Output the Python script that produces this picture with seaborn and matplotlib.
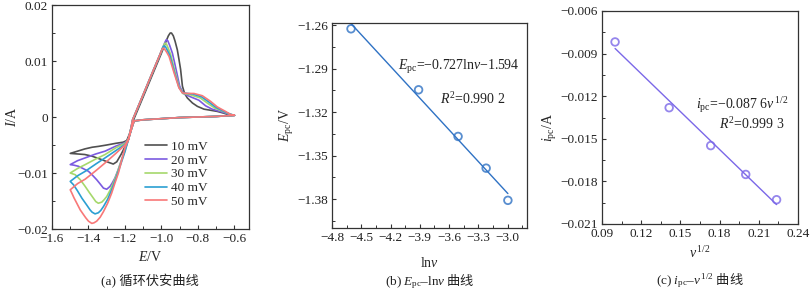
import numpy as np
import pandas as pd
import matplotlib
matplotlib.use("Agg")
import matplotlib.pyplot as plt
from matplotlib.ticker import MultipleLocator, FuncFormatter
import seaborn as sns

# ---------------- data ----------------
rates = ["10 mV", "20 mV", "30 mV", "40 mV", "50 mV"]
colors = ["#505050", "#7b5be0", "#a6d86c", "#2b9fd2", "#f87878"]

fwd_E = [-0.60, -0.70, -0.80, -0.90, -1.00, -1.10, -1.15, -1.165, -1.182]
fwd_I = [0.0003, 0.0001, 0.0000, -0.0001, -0.0003, -0.0005, -0.0007, -0.0022, -0.0041]

E_10 = fwd_E + [-1.20, -1.22, -1.245, -1.264, -1.29, -1.32, -1.346, -1.38, -1.42, -1.46, -1.50,
                -1.46, -1.42, -1.38, -1.346, -1.30, -1.25, -1.21, -1.19, -1.175, -1.16, -1.149,
                -1.10, -1.05, -1.00, -0.975, -0.962, -0.952, -0.945, -0.935, -0.925, -0.913,
                -0.904, -0.895, -0.885, -0.873, -0.858, -0.83, -0.803, -0.767, -0.73, -0.694,
                -0.66, -0.631, -0.618, -0.60]
I_10 = fwd_I + [-0.0053, -0.0066, -0.0080, -0.0084, -0.0081, -0.0077, -0.0074, -0.0070, -0.0067, -0.0066, -0.0065,
                -0.0061, -0.0057, -0.0054, -0.00525, -0.0050, -0.0047, -0.0045, -0.0042, -0.0030, -0.0012, -0.0002,
                0.0036, 0.0075, 0.0114, 0.0135, 0.0145, 0.0150, 0.0150, 0.0145, 0.0135, 0.0120,
                0.0103, 0.0085, 0.0055, 0.0042, 0.0034, 0.0025, 0.0019, 0.0014, 0.0012, 0.0010,
                0.0007, 0.0004, 0.0003, 0.0003]

E_20 = fwd_E + [-1.20, -1.218, -1.237, -1.255, -1.27, -1.282, -1.300, -1.318, -1.335, -1.355, -1.378, -1.40, -1.43, -1.455, -1.48, -1.50,
                -1.46, -1.418, -1.36, -1.309, -1.25, -1.20, -1.182, -1.17, -1.158,
                -1.10, -1.05, -1.01, -1.00, -0.99, -0.98, -0.973, -0.965, -0.955, -0.940, -0.928, -0.916, -0.900,
                -0.880, -0.860, -0.840, -0.795, -0.758, -0.722, -0.69, -0.658, -0.63, -0.60]
I_20 = fwd_I + [-0.0058, -0.0076, -0.0094, -0.0109, -0.0118, -0.0124, -0.0129, -0.0127, -0.0120, -0.0112, -0.0104, -0.0097, -0.0092, -0.0088, -0.0086, -0.0085,
                -0.0078, -0.0073, -0.0066, -0.0061, -0.0052, -0.0046, -0.0041, -0.0025, -0.0005,
                0.0040, 0.0079, 0.0110, 0.0118, 0.0126, 0.0134, 0.0138, 0.0136, 0.0128, 0.0114, 0.0097, 0.0079, 0.0055,
                0.0042, 0.0039, 0.0036, 0.0030, 0.0020, 0.0014, 0.0011, 0.0008, 0.0005, 0.0003]

E_30 = fwd_E + [-1.20, -1.227, -1.245, -1.264, -1.282, -1.300, -1.315, -1.327, -1.346, -1.36, -1.373, -1.395, -1.418, -1.445, -1.473, -1.50,
                -1.46, -1.418, -1.36, -1.309, -1.25, -1.20, -1.182, -1.17, -1.158,
                -1.10, -1.05, -1.01, -1.00, -0.99, -0.981, -0.972, -0.962, -0.950, -0.924, -0.903,
                -0.883, -0.86, -0.835, -0.787, -0.745, -0.708, -0.655, -0.625, -0.60]
I_30 = fwd_I + [-0.0060, -0.0085, -0.0102, -0.0118, -0.0131, -0.0142, -0.0148, -0.0152, -0.0154, -0.0151, -0.0145, -0.0135, -0.0124, -0.0112, -0.0103, -0.0100,
                -0.0092, -0.0085, -0.0075, -0.0067, -0.0055, -0.0047, -0.0041, -0.0025, -0.0005,
                0.0040, 0.0079, 0.0110, 0.0118, 0.0126, 0.0132, 0.0130, 0.0122, 0.0112, 0.0079, 0.0054,
                0.0042, 0.0041, 0.0039, 0.0034, 0.0024, 0.0016, 0.0009, 0.0005, 0.0003]

E_40 = fwd_E + [-1.20, -1.227, -1.25, -1.273, -1.295, -1.318, -1.333, -1.346, -1.364, -1.38, -1.391, -1.41, -1.436, -1.46, -1.482, -1.50,
                -1.46, -1.418, -1.36, -1.309, -1.25, -1.20, -1.182, -1.17, -1.158,
                -1.10, -1.05, -1.01, -1.00, -0.993, -0.986, -0.977, -0.966, -0.954, -0.928, -0.904,
                -0.884, -0.855, -0.828, -0.780, -0.737, -0.700, -0.652, -0.622, -0.60]
I_40 = fwd_I + [-0.0062, -0.0088, -0.0110, -0.0130, -0.0147, -0.0160, -0.0167, -0.0171, -0.0173, -0.0170, -0.0166, -0.0157, -0.0145, -0.0132, -0.0121, -0.0115,
                -0.0105, -0.0097, -0.0084, -0.0073, -0.0060, -0.0049, -0.0041, -0.0025, -0.0005,
                0.0040, 0.0079, 0.0110, 0.0118, 0.0124, 0.0127, 0.0125, 0.0118, 0.0110, 0.0079, 0.0053,
                0.0043, 0.0042, 0.0041, 0.0036, 0.0026, 0.0017, 0.0009, 0.0005, 0.0003]

E_50 = fwd_E + [-1.20, -1.236, -1.255, -1.273, -1.295, -1.318, -1.336, -1.355, -1.37, -1.382, -1.40, -1.415, -1.428, -1.445, -1.464, -1.48, -1.491, -1.50,
                -1.46, -1.418, -1.36, -1.309, -1.25, -1.20, -1.182, -1.17, -1.158,
                -1.10, -1.05, -1.01, -1.00, -0.995, -0.989, -0.980, -0.970, -0.958, -0.931, -0.904,
                -0.885, -0.855, -0.822, -0.776, -0.731, -0.694, -0.649, -0.618, -0.60]
I_50 = fwd_I + [-0.0055, -0.0100, -0.0118, -0.0136, -0.0154, -0.0169, -0.0179, -0.0186, -0.0189, -0.0190, -0.0186, -0.0180, -0.0174, -0.0166, -0.0154, -0.0144, -0.0136, -0.0130,
                -0.0119, -0.0111, -0.0096, -0.0082, -0.0065, -0.0050, -0.0041, -0.0025, -0.0005,
                0.0040, 0.0079, 0.0110, 0.0118, 0.0122, 0.0123, 0.0120, 0.0115, 0.0108, 0.0079, 0.0052,
                0.0043, 0.0042, 0.0042, 0.0038, 0.0028, 0.0018, 0.0010, 0.0004, 0.0003]

lnv = [-4.605, -3.912, -3.507, -3.219, -2.996]
Epc = [-1.2625, -1.3046, -1.3368, -1.3587, -1.3809]

sqrt_v = [0.100, 0.1414, 0.1732, 0.200, 0.2236]
ipc = [-0.00818, -0.01281, -0.01548, -0.01751, -0.01929]

# ---------------- style ----------------
sns.set_theme(style="ticks")
plt.rcParams["font.family"] = ["Liberation Serif", "Noto Sans CJK SC"]
plt.rcParams["mathtext.fontset"] = "custom"
plt.rcParams["mathtext.rm"] = "Liberation Serif"
plt.rcParams["mathtext.it"] = "Liberation Serif:italic"
plt.rcParams["mathtext.bf"] = "Liberation Serif:bold"
plt.rcParams["axes.unicode_minus"] = True
plt.rcParams["axes.linewidth"] = 0.9
plt.rcParams["axes.edgecolor"] = "#333333"

FS = 9.5
fig = plt.figure(figsize=(8.1, 2.93), dpi=100)
W, H = 810, 293

def add_ax(l, r, t, b):
    return fig.add_axes([l / W, (H - b) / H, (r - l) / W, (b - t) / H])

axa = add_ax(52, 249, 5, 229)
axb = add_ax(332, 527, 23, 228)
axc = add_ax(602, 798, 11, 224)

def style(ax):
    ax.tick_params(which="both", direction="in", labelsize=FS, colors="#333333",
                   labelcolor="#222222", top=False, right=False)
    ax.tick_params(which="major", length=3, width=0.8, pad=3)
    ax.tick_params(which="minor", length=2, width=0.7)
    for s in ax.spines.values():
        s.set_visible(True)

# ---------- panel a ----------
frames = []
for lab, E, I in zip(rates, [E_10, E_20, E_30, E_40, E_50], [I_10, I_20, I_30, I_40, I_50]):
    frames.append(pd.DataFrame({"E": E, "I": I, "rate": lab, "k": np.arange(len(E))}))
df = pd.concat(frames, ignore_index=True)
sns.lineplot(data=df, x="E", y="I", hue="rate", palette=colors, sort=False,
             estimator=None, units="rate", lw=1.2, ax=axa)
axa.set_xlim(-1.6, -0.52)
axa.set_ylim(-0.02, 0.02)
axa.xaxis.set_major_locator(MultipleLocator(0.2))
axa.xaxis.set_minor_locator(MultipleLocator(0.1))
axa.yaxis.set_major_locator(MultipleLocator(0.01))
axa.yaxis.set_minor_locator(MultipleLocator(0.005))
axa.xaxis.set_major_formatter(FuncFormatter(lambda v, p: f"{v:.1f}".replace("-", "\u2212")))
axa.yaxis.set_major_formatter(FuncFormatter(lambda v, p: "0" if abs(v) < 1e-9 else f"{v:.2f}".replace("-", "\u2212")))
style(axa)
axa.set_xlabel(r"$E$/V", fontsize=FS + 0.5)
axa.set_ylabel(r"$I$/A", fontsize=FS + 0.5)
axa.xaxis.set_label_coords(0.5, -0.125)
axa.xaxis.label.set_va("center")
axa.yaxis.set_label_coords(-0.203, 0.5)
axa.yaxis.label.set_va("center")
leg = axa.legend(title=None, frameon=False, loc="upper left", bbox_to_anchor=(0.47, 0.395),
                 fontsize=FS, handlelength=1.7, handletextpad=0.3, labelspacing=0.12,
                 borderpad=0, borderaxespad=0)

# ---------- panel b ----------
blue = "#2f72c4"
sns.regplot(x=lnv, y=Epc, ci=None, ax=axb, marker="o",
            scatter_kws=dict(s=30, facecolors="none", edgecolors=blue, linewidths=1.3, zorder=3),
            line_kws=dict(color=blue, lw=1.0))
axb.set_xlim(-4.8, -2.8)
axb.set_ylim(-1.40, -1.2585)
axb.xaxis.set_major_locator(MultipleLocator(0.3))
axb.xaxis.set_minor_locator(MultipleLocator(0.15))
axb.yaxis.set_major_locator(MultipleLocator(0.03))
axb.yaxis.set_minor_locator(MultipleLocator(0.015))
axb.xaxis.set_major_formatter(FuncFormatter(lambda v, p: f"{v:.1f}".replace("-", "\u2212")))
axb.yaxis.set_major_formatter(FuncFormatter(lambda v, p: f"{v:.2f}".replace("-", "\u2212")))
style(axb)
axb.set_xlabel(r"ln$v$", fontsize=FS + 0.5)
axb.set_ylabel(r"$E_{\mathrm{pc}}$/V", fontsize=FS + 0.5)
axb.xaxis.set_label_coords(0.5, -0.171)
axb.xaxis.label.set_va("center")
axb.yaxis.set_label_coords(-0.231, 0.5)
axb.yaxis.label.set_va("center")
fig.text(519 / W, 1 - 67 / H, r"$E_{\mathrm{pc}}$=\u22120.727ln$v$\u22121.594".encode().decode("unicode_escape"),
         ha="right", va="center", fontsize=FS + 0.5, color="#222222")
fig.text(506 / W, 1 - 99 / H, r"$R^{2}$=0.990 2", ha="right", va="center",
         fontsize=FS + 0.5, color="#222222")

# ---------- panel c ----------
purple = "#7b68e8"
sns.regplot(x=sqrt_v, y=ipc, ci=None, ax=axc, marker="o",
            scatter_kws=dict(s=30, facecolors="none", edgecolors=purple, linewidths=1.3, zorder=3),
            line_kws=dict(color=purple, lw=1.0))
axc.set_xlim(0.09, 0.24)
axc.set_ylim(-0.021, -0.006)
axc.xaxis.set_major_locator(MultipleLocator(0.03))
axc.xaxis.set_minor_locator(MultipleLocator(0.015))
axc.yaxis.set_major_locator(MultipleLocator(0.003))
axc.yaxis.set_minor_locator(MultipleLocator(0.0015))
axc.xaxis.set_major_formatter(FuncFormatter(lambda v, p: f"{v:.2f}"))
axc.yaxis.set_major_formatter(FuncFormatter(lambda v, p: f"{v:.3f}".replace("-", "\u2212")))
style(axc)
axc.set_xlabel(r"$v^{\,1/2}$", fontsize=FS + 0.5)
axc.set_ylabel(r"$i_{\mathrm{pc}}$/A", fontsize=FS + 0.5)
axc.xaxis.set_label_coords(0.5, -0.136)
axc.xaxis.label.set_va("center")
axc.yaxis.set_label_coords(-0.265, 0.455)
axc.yaxis.label.set_va("center")
fig.text(788 / W, 1 - 105 / H, "$i_{\\mathrm{pc}}$=\u22120.087 6$v^{\\,1/2}$",
         ha="right", va="center", fontsize=FS + 0.5, color="#222222")
fig.text(785 / W, 1 - 124 / H, r"$R^{2}$=0.999 3", ha="right", va="center",
         fontsize=FS + 0.5, color="#222222")

# ---------- captions ----------
cap_kw = dict(ha="center", va="center", fontsize=FS, color="#222222")
fig.text(150 / W, 1 - 281 / H, "(a) 循环伏安曲线", family=["Liberation Serif", "Noto Sans CJK SC"], **cap_kw)
fig.text(430 / W, 1 - 282 / H, "$\\mathrm{(b)}\\ E_{\\mathrm{pc}}\\mathrm{\u2013ln}v$ 曲线",
         family="Noto Sans CJK SC", **cap_kw)
fig.text(700 / W, 1 - 281 / H, "$\\mathrm{(c)}\\ i_{\\mathrm{pc}}\\mathrm{\u2013}v^{\\,1/2}$ 曲线",
         family="Noto Sans CJK SC", **cap_kw)

fig.savefig("out.png", dpi=100)
